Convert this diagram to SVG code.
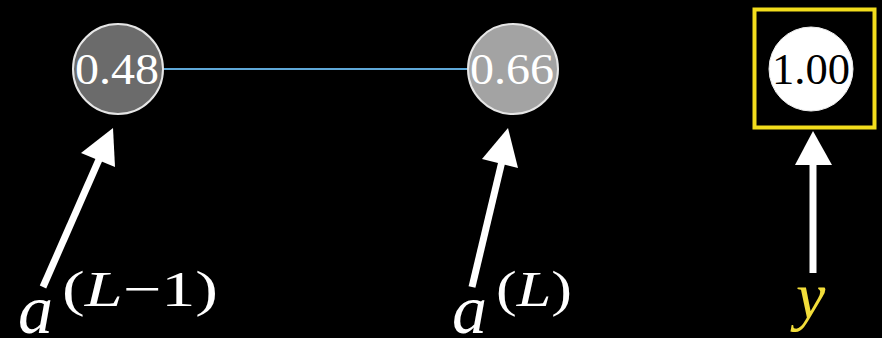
<svg xmlns="http://www.w3.org/2000/svg" width="882" height="338" viewBox="0 0 882 338">
<style>
.num{font-family:'Liberation Serif','Times New Roman','DejaVu Serif',serif;font-size:45px;text-anchor:middle}
.lab{font-family:'Liberation Serif','Times New Roman','DejaVu Serif',serif;font-style:italic}
.sup{font-family:'Liberation Serif','Times New Roman','DejaVu Serif',serif;font-size:50px}
.node{stroke:#e6e6e6;stroke-width:2}
.arrow{fill:#fff;stroke:none}
</style>
<rect width="882" height="338" fill="#000"/>
<g id="connectors">
<line x1="163" y1="69" x2="468" y2="69" stroke="#5fa8d8" stroke-width="2"/>
<g id="arrow1">
<line x1="43" y1="287" x2="101" y2="155" stroke="#fff" stroke-width="7"/>
<polygon class="arrow" points="113,128 81,153 115,167"/>
</g>
<g id="arrow2">
<line x1="472" y1="287" x2="503" y2="157" stroke="#fff" stroke-width="7"/>
<polygon class="arrow" points="508,128 482,159 518,168"/>
</g>
<g id="arrow3">
<line x1="813" y1="273" x2="813" y2="160" stroke="#fff" stroke-width="7"/>
<polygon class="arrow" points="813,131 795,165 832,165"/>
</g>
</g>
<g id="node1">
<circle class="node" cx="118" cy="69" r="45" fill="#6b6b6b"/>
<text class="num" x="117" y="84" fill="#fff" textLength="84" lengthAdjust="spacingAndGlyphs">0.48</text>
</g>
<g id="node2">
<circle class="node" cx="513" cy="69" r="45" fill="#a3a3a3"/>
<text class="num" x="512" y="84" fill="#fff" textLength="84" lengthAdjust="spacingAndGlyphs">0.66</text>
</g>
<g id="node3">
<rect x="754.5" y="9.5" width="120" height="118" fill="none" stroke="#f2dd1c" stroke-width="4"/>
<circle cx="811" cy="69" r="42" fill="#fff" stroke="#eee" stroke-width="1"/>
<text class="num" x="811" y="84" fill="#000" textLength="78" lengthAdjust="spacingAndGlyphs">1.00</text>
</g>
<g id="label1">
<text class="lab" x="18" y="333" font-size="70" fill="#fff">a</text>
<text class="sup" x="62" y="306" fill="#fff" textLength="156" lengthAdjust="spacingAndGlyphs">(<tspan font-style="italic">L</tspan>−1)</text>
</g>
<g id="label2">
<text class="lab" x="452" y="333" font-size="70" fill="#fff">a</text>
<text class="sup" x="496" y="306" fill="#fff" textLength="76" lengthAdjust="spacingAndGlyphs">(<tspan font-style="italic">L</tspan>)</text>
</g>
<g id="label3">
<text class="lab" x="796" y="318" font-size="66" fill="#f2dd3a">y</text>
</g>
</svg>
